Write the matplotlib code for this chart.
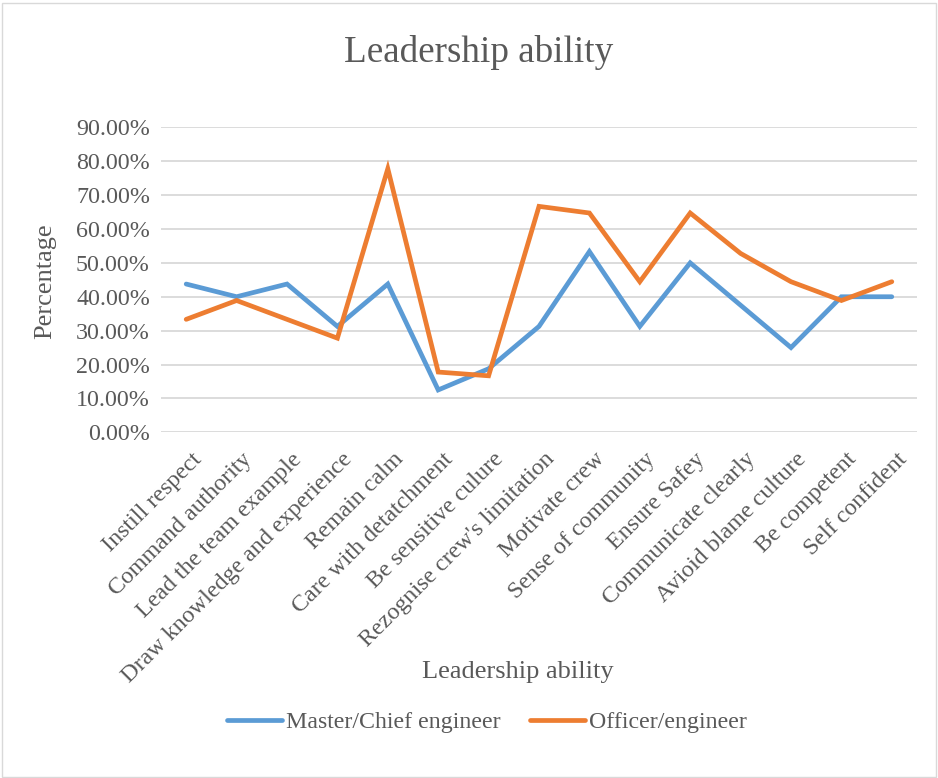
import matplotlib.pyplot as plt
import matplotlib.transforms as mtransforms
from matplotlib.patches import Rectangle

categories = ["Instill respect", "Command authority", "Lead the team example",
              "Draw knowledge and experience", "Remain calm", "Care with detatchment",
              "Be sensitive culure", "Rezognise crew's limitation", "Motivate crew",
              "Sense of community", "Ensure Safey", "Communicate clearly",
              "Avioid blame culture", "Be competent", "Self confident"]
master = [43.75, 40.0, 43.75, 31.25, 43.75, 12.5, 18.75, 31.25, 53.33,
          31.25, 50.0, 37.5, 25.0, 40.0, 40.0]
officer = [33.33, 38.89, 33.33, 27.78, 77.78, 17.78, 16.67, 66.67, 64.71,
           44.44, 64.71, 52.78, 44.44, 38.89, 44.44]
yticks = [0, 10, 20, 30, 40, 50, 60, 70, 80, 90]

plt.rcParams['font.family'] = ['Liberation Serif', 'DejaVu Serif']
text_color = '#595959'

fig = plt.figure(figsize=(9.38, 7.78), dpi=100)
W, H = 938, 778
ax = fig.add_axes([161 / W, 1 - 432.3 / H, (917 - 161) / W, (432.3 - 127.3) / H])

x = list(range(len(categories)))
ax.plot(x, master, color='#5B9BD5', lw=3.4, solid_capstyle='round', solid_joinstyle='miter',
        label='Master/Chief engineer', zorder=3)
ax.plot(x, officer, color='#ED7D31', lw=3.4, solid_capstyle='round', solid_joinstyle='miter',
        label='Officer/engineer', zorder=3)

ax.set_xlim(-0.5, len(categories) - 0.5)
ax.set_ylim(0, 90)
ax.set_yticks(yticks)
ax.set_yticklabels([f"{v:.2f}%" for v in yticks], fontsize=17.3, color=text_color)
ax.yaxis.grid(True, color='#D9D9D9', lw=1.3)
ax.set_axisbelow(True)
for s in ax.spines.values():
    s.set_visible(False)
ax.tick_params(axis='both', length=0)
ax.tick_params(axis='y', pad=8)

ax.set_xticks(x)
ax.set_xticklabels(categories, rotation=45, ha='right', va='center',
                   rotation_mode='anchor', fontsize=17.3, color=text_color)
# shift the rotated labels so their top end sits just right of the category
offset = mtransforms.ScaledTranslation(12 / 100, -19 / 100, fig.dpi_scale_trans)
for lab in ax.get_xticklabels():
    lab.set_transform(lab.get_transform() + offset)

fig.text(45 / W, 1 - 281 / H, "Percentage", rotation=90, ha='center', va='center',
         fontsize=19, color=text_color)
fig.text(518 / W, 1 - 672 / H, "Leadership ability", ha='center', va='center',
         fontsize=19, color=text_color)
fig.text(479 / W, 1 - 53 / H, "Leadership ability", ha='center', va='center',
         fontsize=26.7, color=text_color)

leg = fig.legend(loc='center', bbox_to_anchor=(487 / W, 1 - 722 / H), ncol=2,
                 frameon=False, fontsize=17.2, handlelength=2.3, columnspacing=1.2,
                 handletextpad=0.2)
for t in leg.get_texts():
    t.set_color(text_color)

fig.patches.append(Rectangle((1.5 / W, 1.5 / H), (W - 4) / W, (H - 4) / H,
                             transform=fig.transFigure, fill=False,
                             edgecolor='#D9D9D9', lw=1))

fig.savefig('out.png', dpi=100)
